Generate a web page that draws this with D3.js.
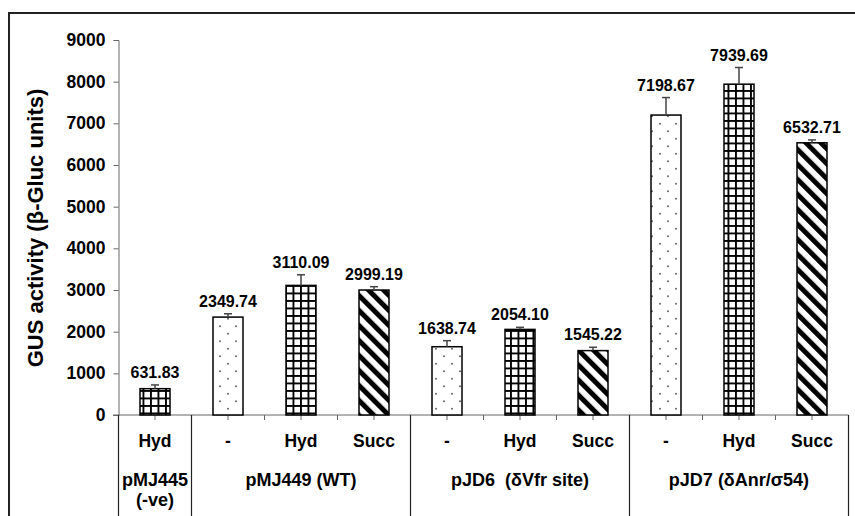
<!DOCTYPE html>
<html>
<head>
<meta charset="utf-8">
<script src="https://cdn.jsdelivr.net/npm/d3@7"></script>
<style>
  html, body { margin: 0; padding: 0; background: #fff; }
  svg { display: block; font-family: "Liberation Sans", Arial, sans-serif; font-weight: bold; }
</style>
</head>
<body>
<svg id="chart" width="855" height="516"></svg>
<script>
// Treatments (inner category row), one per bar
const categories = ["Hyd", "-", "Hyd", "Succ", "-", "Hyd", "Succ", "-", "Hyd", "Succ"];
// Mean GUS activity per bar
const values = [631.83, 2349.74, 3110.09, 2999.19, 1638.74, 2054.10, 1545.22, 7198.67, 7939.69, 6532.71];
// Upper error (standard deviation)
const errors = [90, 80, 255, 80, 145, 50, 80, 420, 400, 70];
// Plasmid groups (outer category row)
const groupNames = ["pMJ445", "pMJ449 (WT)", "pJD6  (δVfr site)", "pJD7 (δAnr/σ54)"];
const groupSecondLines = ["(-ve)", "", "", ""];
const groupSizes = [1, 3, 3, 3];
const yTicks = [0, 1000, 2000, 3000, 4000, 5000, 6000, 7000, 8000, 9000];

const svg = d3.select("#chart");

// Fill patterns: dots for no addition, grid for Hyd, diagonal stripes for Succ
const defs = svg.append("defs");
const dots = defs.append("pattern").attr("id", "pat-dots")
  .attr("patternUnits", "userSpaceOnUse").attr("width", 16).attr("height", 15);
dots.append("rect").attr("width", 16).attr("height", 15).attr("fill", "#fff");
dots.append("circle").attr("cx", 4).attr("cy", 3.75).attr("r", 0.9).attr("fill", "#555");
dots.append("circle").attr("cx", 12).attr("cy", 11.25).attr("r", 0.9).attr("fill", "#555");

const grid = defs.append("pattern").attr("id", "pat-grid")
  .attr("patternUnits", "userSpaceOnUse").attr("width", 7.5).attr("height", 7.5);
grid.append("rect").attr("width", 7.5).attr("height", 7.5).attr("fill", "#fff");
grid.append("path").attr("d", "M0.9,0V7.5M0,0.9H7.5").attr("stroke", "#000").attr("stroke-width", 2);

const stripes = defs.append("pattern").attr("id", "pat-stripes")
  .attr("patternUnits", "userSpaceOnUse").attr("width", 10.6).attr("height", 10.6)
  .attr("patternTransform", "rotate(-45)");
stripes.append("rect").attr("width", 10.6).attr("height", 10.6).attr("fill", "#fff");
stripes.append("rect").attr("width", 5).attr("height", 10.6).attr("fill", "#000");

const patternFor = c => c === "Hyd" ? "url(#pat-grid)" : c === "Succ" ? "url(#pat-stripes)" : "url(#pat-dots)";

// Outer frame
svg.append("rect").attr("x", 9).attr("y", 13).attr("width", 900).attr("height", 600)
  .attr("fill", "none").attr("stroke", "#222").attr("stroke-width", 2);

const x0 = 118.5, x1 = 848.5;
const x = d3.scaleBand().domain(d3.range(values.length)).range([x0, x1]).padding(0);
const y = d3.scaleLinear().domain([0, 9000]).range([415, 40]);
const barW = 30;

// Y axis
const yAxis = svg.append("g").attr("transform", `translate(${x0},0)`)
  .call(d3.axisLeft(y).tickValues(yTicks).tickSize(5).tickPadding(8).tickFormat(d3.format("d")));
yAxis.select(".domain").attr("stroke", "#666");
yAxis.selectAll(".tick line").attr("stroke", "#666");
yAxis.selectAll(".tick text").attr("font-size", 17.5).attr("font-weight", "bold")
  .attr("font-family", "Liberation Sans, Arial, sans-serif").attr("fill", "#000");

// Y axis title
svg.append("text")
  .attr("transform", "translate(43,228) rotate(-90)")
  .attr("text-anchor", "middle").attr("font-size", 22).attr("fill", "#000")
  .text("GUS activity (β-Gluc units)");

// X axis line and tick marks at category centres and boundaries
svg.append("line").attr("x1", 113).attr("x2", x1).attr("y1", y(0)).attr("y2", y(0))
  .attr("stroke", "#666").attr("stroke-width", 1.2);
const halfTicks = d3.range(values.length * 2 + 1).map(i => x0 + i * x.bandwidth() / 2);
svg.append("g").selectAll("line").data(halfTicks).join("line")
  .attr("x1", d => d).attr("x2", d => d).attr("y1", y(0)).attr("y2", y(0) + 5)
  .attr("stroke", "#666");

// Group start indices (0, 1, 4, 7, 10)
const groupStarts = [0].concat(Array.from(d3.cumsum(groupSizes)));

// Group separators running down through the label rows
const boundaries = groupStarts.map(i => x0 + i * x.bandwidth());
svg.append("g").selectAll("line").data(boundaries).join("line")
  .attr("x1", d => d).attr("x2", d => d).attr("y1", y(0)).attr("y2", 530)
  .attr("stroke", "#222").attr("stroke-width", 1.2);

// Bars
const bars = svg.append("g");
bars.selectAll("rect").data(values).join("rect")
  .attr("x", (d, i) => x(i) + (x.bandwidth() - barW) / 2)
  .attr("y", d => y(d))
  .attr("width", barW)
  .attr("height", d => y(0) - y(d))
  .attr("fill", (d, i) => patternFor(categories[i]))
  .attr("stroke", "#000").attr("stroke-width", 1.5);

// Error bars (upper only)
const eb = svg.append("g").attr("stroke", "#444").attr("stroke-width", 1.5);
values.forEach((v, i) => {
  const cx = x(i) + x.bandwidth() / 2;
  eb.append("line").attr("x1", cx).attr("x2", cx).attr("y1", y(v)).attr("y2", y(v + errors[i]));
  eb.append("line").attr("x1", cx - 4).attr("x2", cx + 4).attr("y1", y(v + errors[i])).attr("y2", y(v + errors[i]));
});

// Value labels
svg.append("g").selectAll("text").data(values).join("text")
  .attr("x", (d, i) => x(i) + x.bandwidth() / 2)
  .attr("y", (d, i) => y(d + errors[i]) - 7)
  .attr("text-anchor", "middle").attr("font-size", 16).attr("fill", "#000")
  .text(d => d3.format(".2f")(d));

// Inner category labels
svg.append("g").selectAll("text").data(categories).join("text")
  .attr("x", (d, i) => x(i) + x.bandwidth() / 2)
  .attr("y", 447)
  .attr("text-anchor", "middle").attr("font-size", 17.5).attr("fill", "#000")
  .text(d => d);

// Outer group labels
groupNames.forEach((g, k) => {
  const cx = x0 + (groupStarts[k] + groupSizes[k] / 2) * x.bandwidth();
  svg.append("text").attr("x", cx).attr("y", 486)
    .attr("text-anchor", "middle").attr("font-size", 18).attr("fill", "#000")
    .attr("xml:space", "preserve").style("white-space", "pre")
    .text(g);
  if (groupSecondLines[k]) {
    svg.append("text").attr("x", cx).attr("y", 506)
      .attr("text-anchor", "middle").attr("font-size", 18).attr("fill", "#000")
      .text(groupSecondLines[k]);
  }
});
</script>
</body>
</html>
